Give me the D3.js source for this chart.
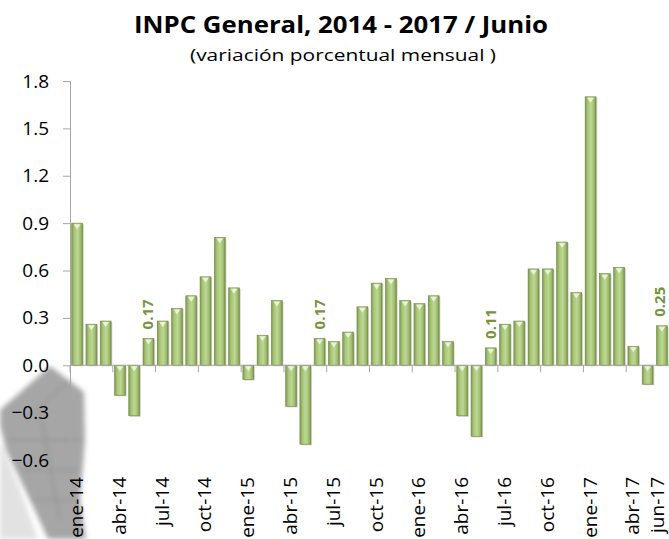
<!DOCTYPE html>
<html lang="es">
<head>
  <meta charset="UTF-8">
  <title>INPC General, 2014 - 2017 / Junio</title>
  <script src="https://d3js.org/d3.v7.min.js"></script>
  <style>
    body { margin: 0; background: #fff; font-family: "Open Sans", sans-serif; }
    .title { font-size: 23px; font-weight: bold; }
    .subtitle { font-size: 17px; }
    .cat-label { font-size: 19px; fill: #000; }
    .data-label { font-size: 15px; font-weight: bold; fill: #77933c; }
  </style>
</head>
<body>
  <div id="chart"></div>
  <script>
    // months ene-14 .. jun-17
    const months = ["ene","feb","mar","abr","may","jun","jul","ago","sep","oct","nov","dic"];
    const years = ["14","15","16","17"];
    const categories = [];
    years.forEach(y => months.forEach(m => categories.push(m + "-" + y)));
    categories.splice(42);

    const values = [
      0.90, 0.26, 0.28, -0.19, -0.32, 0.17, 0.28, 0.36, 0.44, 0.56, 0.81, 0.49,
      -0.09, 0.19, 0.41, -0.26, -0.50, 0.17, 0.15, 0.21, 0.37, 0.52, 0.55, 0.41,
      0.39, 0.44, 0.15, -0.32, -0.45, 0.11, 0.26, 0.28, 0.61, 0.61, 0.78, 0.46,
      1.70, 0.58, 0.62, 0.12, -0.12, 0.25
    ];

    const yTicks = [-0.6, -0.3, 0, 0.3, 0.6, 0.9, 1.2, 1.5, 1.8];
    const shownLabels = ["ene-14","abr-14","jul-14","oct-14","ene-15","abr-15","jul-15",
                         "oct-15","ene-16","abr-16","jul-16","oct-16","ene-17","abr-17","jun-17"];
    const labelledBars = ["jun-14","jun-15","jun-16","jun-17"];

    const W = 669, H = 539;
    const plot = { left: 70, right: 669, top: 81, bottom: 460 };

    const svg = d3.select("#chart").append("svg")
      .attr("width", W).attr("height", H);

    const defs = svg.append("defs");
    const grad = defs.append("linearGradient").attr("id", "barGrad")
      .attr("x1", "0%").attr("x2", "100%").attr("y1", "0%").attr("y2", "0%");
    grad.append("stop").attr("offset", "0%").attr("stop-color", "#7f9a4e");
    grad.append("stop").attr("offset", "25%").attr("stop-color", "#a9c67a");
    grad.append("stop").attr("offset", "55%").attr("stop-color", "#bcd894");
    grad.append("stop").attr("offset", "85%").attr("stop-color", "#9cb96a");
    grad.append("stop").attr("offset", "100%").attr("stop-color", "#748f45");
    defs.append("filter").attr("id", "blur")
      .append("feGaussianBlur").attr("stdDeviation", 2.5);

    // faint watermark picture in the lower left corner
    const wm = svg.append("g").attr("filter", "url(#blur)");
    wm.append("polygon")
      .attr("points", "0,440 20,490 38,539 0,539")
      .attr("fill", "#e2e2e2");
    wm.append("polygon")
      .attr("points", "50,366 84,392 85,440 80,500 86,539 48,539 30,500 6,450 0,425 0,410")
      .attr("fill", "#9c9c9c").attr("opacity", 0.9);
    wm.append("path")
      .attr("d", "M8,440 L80,440 M20,470 L78,470 M30,500 L80,500 M40,410 L60,520 M25,420 L70,380")
      .attr("stroke", "#7a7a7a").attr("stroke-width", 1.5).attr("opacity", 0.5);

    const x = d3.scaleBand().domain(categories)
      .range([plot.left, plot.right]).paddingInner(0.24).paddingOuter(0.12);
    const y = d3.scaleLinear().domain([-0.6, 1.8]).range([plot.bottom, plot.top]);

    // y axis
    const yAxis = svg.append("g").attr("transform", `translate(${plot.left},0)`)
      .call(d3.axisLeft(y).tickValues(yTicks).tickFormat(d3.format(".1f")).tickSize(7).tickPadding(14));
    yAxis.select(".domain").attr("stroke", "#a6a6a6");
    yAxis.selectAll(".tick line").attr("stroke", "#a6a6a6");
    yAxis.selectAll(".tick text").attr("fill", "#000")
      .style("font-family", "'Open Sans', sans-serif").style("font-size", "19px");

    // bars
    const data = categories.map((c, i) => ({ cat: c, v: values[i] }));
    const bars = svg.append("g");
    bars.selectAll("rect.shadow").data(data).enter().append("rect")
      .attr("x", d => x(d.cat) + 1.2)
      .attr("y", d => Math.min(y(d.v), y(0)) + 1)
      .attr("width", x.bandwidth())
      .attr("height", d => Math.abs(y(d.v) - y(0)))
      .attr("fill", "#9aa38c").attr("opacity", 0.5);
    bars.selectAll("rect.bar").data(data).enter().append("rect")
      .attr("x", d => x(d.cat))
      .attr("y", d => Math.min(y(d.v), y(0)))
      .attr("width", x.bandwidth())
      .attr("height", d => Math.abs(y(d.v) - y(0)))
      .attr("fill", "url(#barGrad)")
      .attr("stroke", "#6f8a42").attr("stroke-width", 0.6);
    // little bevel highlight at the top of each bar
    bars.selectAll("path.bevel").data(data).enter().append("path")
      .attr("d", d => {
        const x0 = x(d.cat), bw = x.bandwidth();
        const yt = Math.min(y(d.v), y(0)) + 1;
        return `M${x0 + 2},${yt} L${x0 + bw - 2},${yt} L${x0 + bw / 2},${yt + 5} Z`;
      })
      .attr("fill", "#f2f8e6").attr("opacity", 0.85);

    // zero axis with ticks every 3 months
    svg.append("line")
      .attr("x1", plot.left).attr("x2", plot.right)
      .attr("y1", y(0)).attr("y2", y(0))
      .attr("stroke", "#a6a6a6");
    const step = (plot.right - plot.left) / categories.length;
    categories.forEach((c, i) => {
      if (i % 3 === 0) {
        const tx = plot.left + i * step;
        svg.append("line")
          .attr("x1", tx).attr("x2", tx)
          .attr("y1", y(0)).attr("y2", y(0) + 7)
          .attr("stroke", "#a6a6a6");
      }
    });

    // category labels
    svg.append("g").selectAll("text").data(shownLabels).enter().append("text")
      .attr("class", "cat-label")
      .attr("transform", d => `translate(${Math.min(x(d) + x.bandwidth() / 2 + 6, 664)},477) rotate(-90)`)
      .attr("text-anchor", "end")
      .text(d => d);

    // data labels
    svg.append("g").selectAll("text").data(data.filter(d => labelledBars.includes(d.cat)))
      .enter().append("text")
      .attr("class", "data-label")
      .attr("transform", d => `translate(${Math.min(x(d.cat) + x.bandwidth() / 2 + 5, 665)},${y(d.v) - 9}) rotate(-90)`)
      .attr("text-anchor", "start")
      .text(d => d.v.toFixed(2));

    // titles
    svg.append("text").attr("class", "title")
      .attr("x", 341).attr("y", 33).attr("text-anchor", "middle")
      .attr("textLength", 414).attr("lengthAdjust", "spacingAndGlyphs")
      .text("INPC General, 2014 - 2017 / Junio");
    svg.append("text").attr("class", "subtitle")
      .attr("x", 343).attr("y", 61).attr("text-anchor", "middle")
      .attr("textLength", 306).attr("lengthAdjust", "spacingAndGlyphs")
      .text("(variación porcentual mensual )");
  </script>
</body>
</html>
